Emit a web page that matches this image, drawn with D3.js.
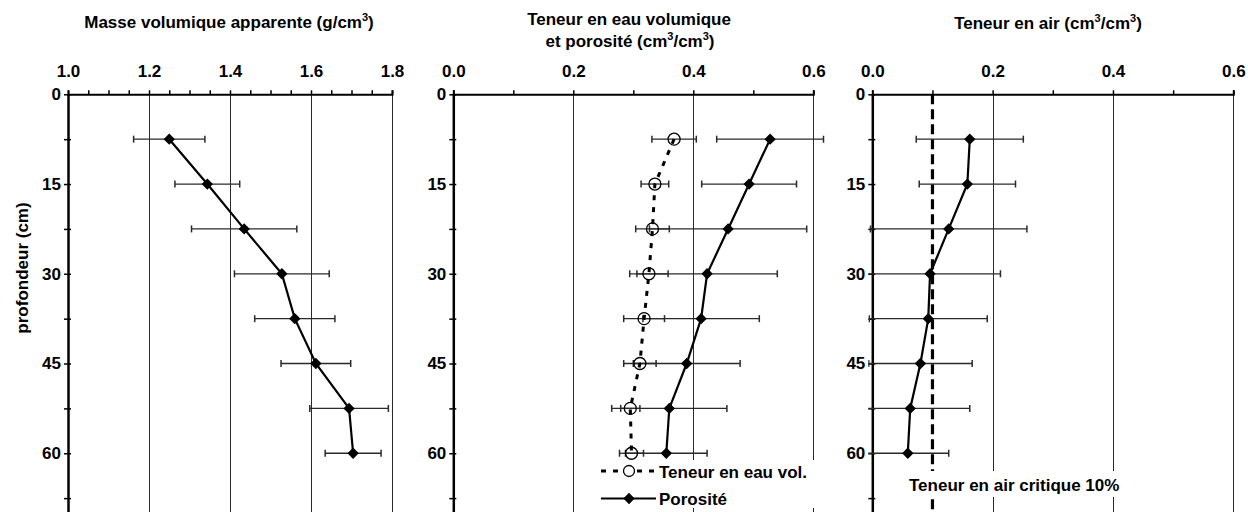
<!DOCTYPE html>
<html>
<head>
<meta charset="utf-8">
<script src="https://cdn.jsdelivr.net/npm/d3@7"></script>
<style>
  body { margin: 0; background: #fff; }
  svg { font-family: "Liberation Sans", Arial, sans-serif; font-weight: bold; }
</style>
</head>
<body>
<div id="chart"></div>
<script>
// depth of each sample (cm)
const depths = [7.5, 15, 22.5, 30, 37.5, 45, 52.5, 60]

// bulk density (g/cm3) and its std dev
const density = [1.25, 1.344, 1.435, 1.528, 1.560, 1.612, 1.694, 1.704]
const densityErr = [0.088, 0.080, 0.130, 0.117, 0.099, 0.086, 0.097, 0.069]

// volumetric water content and porosity (cm3/cm3)
const water = [0.368, 0.336, 0.332, 0.326, 0.318, 0.311, 0.295, 0.297]
const waterErr = [0.037, 0.023, 0.028, 0.032, 0.034, 0.027, 0.016, 0.020]
const porosity = [0.528, 0.493, 0.458, 0.423, 0.413, 0.389, 0.360, 0.355]
const porosityErr = [0.089, 0.079, 0.131, 0.117, 0.097, 0.089, 0.096, 0.068]

// air content (cm3/cm3)
const air = [0.162, 0.158, 0.127, 0.096, 0.093, 0.080, 0.063, 0.059]
const airErr = [0.089, 0.080, 0.130, 0.117, 0.098, 0.086, 0.099, 0.068]
const airCritical = 0.1

const densityTicks = [1.0, 1.2, 1.4, 1.6, 1.8]
const fracTicks = [0.0, 0.2, 0.4, 0.6]
const depthTicks = [0, 15, 30, 45, 60]

const WIDTH = 1248
const HEIGHT = 512
const FONT = 17
const GRID = '#2a2a2a'
const ERR = '#2a2a2a'

const svg = d3.select('#chart')
  .append('svg')
  .attr('width', WIDTH)
  .attr('height', HEIGHT)

const y = d3.scaleLinear().domain([0, 75]).range([94.3, 543])

const panels = [
  { x0: 68, x1: 392, domain: [1.0, 1.8], major: densityTicks, minorStep: 0.05 },
  { x0: 453.3, x1: 813.3, domain: [0, 0.6], major: fracTicks, minorStep: 0.1 },
  { x0: 872.3, x1: 1233.3, domain: [0, 0.6], major: fracTicks, minorStep: 0.1 },
]

const fontUp = g => g
  .attr('font-size', FONT)
  .attr('font-family', '"Liberation Sans", Arial, sans-serif')
  .attr('font-weight', 'bold')

function drawPanel(p, i) {
  const x = d3.scaleLinear().domain(p.domain).range([p.x0, p.x1])
  const g = svg.append('g').attr('class', 'panel')

  // vertical gridlines
  g.append('g')
    .selectAll('line')
    .data(p.major.slice(1))
    .enter()
    .append('line')
    .attr('x1', d => Math.round(x(d)) + 0.5).attr('x2', d => Math.round(x(d)) + 0.5)
    .attr('y1', y(0)).attr('y2', y(75))
    .attr('stroke', GRID)
    .attr('stroke-width', 1)

  const nMinor = Math.round((p.domain[1] - p.domain[0]) / p.minorStep)
  const minor = d3.range(nMinor + 1).map(k => p.domain[0] + k * p.minorStep)

  // top axis ticks + line
  g.append('g')
    .attr('transform', `translate(0,${y(0)})`)
    .call(d3.axisTop(x).tickValues(minor).tickSize(4).tickSizeOuter(4).tickFormat(''))
    .call(a => a.select('.domain').attr('stroke', '#000').attr('stroke-width', 2))
    .call(a => a.selectAll('.tick line').attr('stroke', '#000').attr('stroke-width', 1.5))

  // top axis labels
  g.append('g')
    .attr('transform', `translate(0,${y(0)})`)
    .call(d3.axisTop(x).tickValues(p.major).tickSize(0).tickPadding(17).tickFormat(d3.format('.1f')))
    .call(fontUp)
    .call(a => a.select('.domain').remove())
    .call(a => a.selectAll('text').attr('fill', '#000'))

  // left depth axis: crossing ticks every 7.5 cm
  const depthMinor = d3.range(0, 76, 7.5)
  g.append('g')
    .attr('transform', `translate(${p.x0},0)`)
    .call(d3.axisLeft(y).tickValues(depthMinor).tickSize(4).tickSizeOuter(0).tickFormat(''))
    .call(a => a.select('.domain').attr('stroke', '#000').attr('stroke-width', 2.5))
    .call(a => a.selectAll('.tick line').attr('stroke', '#000').attr('stroke-width', 1.5))
  g.append('g')
    .attr('transform', `translate(${p.x0},0)`)
    .call(d3.axisRight(y).tickValues(depthMinor).tickSize(3).tickFormat(''))
    .call(a => a.select('.domain').remove())
    .call(a => a.selectAll('.tick line').attr('stroke', '#000').attr('stroke-width', 1.5))

  g.append('g')
    .attr('transform', `translate(${p.x0},0)`)
    .call(d3.axisLeft(y).tickValues(depthTicks).tickSize(0).tickPadding(7))
    .call(fontUp)
    .call(a => a.select('.domain').remove())
    .call(a => a.selectAll('text').attr('fill', '#000'))

  // clip for the error bars (Excel cuts them a bit left of the axis)
  svg.append('clipPath')
    .attr('id', 'clip' + i)
    .append('rect')
    .attr('x', p.x0 - 4).attr('y', 0)
    .attr('width', p.x1 - p.x0 + 20).attr('height', HEIGHT)

  return { x, g }
}

function errorBars(panel, idx, vals, errs) {
  const { x, g } = panel
  const eg = g.append('g').attr('clip-path', `url(#clip${idx})`)
  const rows = depths.map((d, k) => ({ d, v: vals[k], e: errs[k] }))
  eg.selectAll('line.err')
    .data(rows)
    .enter()
    .append('line')
    .attr('class', 'err')
    .attr('x1', r => x(r.v - r.e)).attr('x2', r => x(r.v + r.e))
    .attr('y1', r => y(r.d)).attr('y2', r => y(r.d))
    .attr('stroke', ERR).attr('stroke-width', 1.3)
  ;[-1, 1].forEach(s => {
    eg.selectAll('line.cap' + (s + 1))
      .data(rows)
      .enter()
      .append('line')
      .attr('class', 'cap' + (s + 1))
      .attr('x1', r => x(r.v + s * r.e)).attr('x2', r => x(r.v + s * r.e))
      .attr('y1', r => y(r.d) - 3.5).attr('y2', r => y(r.d) + 3.5)
      .attr('stroke', ERR).attr('stroke-width', 1.5)
  })
}

function series(panel, vals, opts) {
  const { x, g } = panel
  const rows = depths.map((d, k) => ({ d, v: vals[k] }))
  const line = d3.line().x(r => x(r.v)).y(r => y(r.d))
  g.append('path')
    .datum(rows)
    .attr('d', line)
    .attr('fill', 'none')
    .attr('stroke', '#000')
    .attr('stroke-width', opts.dashed ? 3 : 2.2)
    .attr('stroke-dasharray', opts.dashed ? '5,7' : null)
  markers(g, rows.map(r => [x(r.v), y(r.d)]), opts.circle)
}

function markers(g, pts, circle) {
  if (circle) {
    g.selectAll(null)
      .data(pts)
      .enter()
      .append('circle')
      .attr('cx', d => d[0]).attr('cy', d => d[1])
      .attr('r', 6)
      .attr('fill', 'none')
      .attr('stroke', '#000')
      .attr('stroke-width', 1.3)
  } else {
    g.selectAll(null)
      .data(pts)
      .enter()
      .append('path')
      .attr('d', d3.symbol(d3.symbolSquare, 64))
      .attr('transform', d => `translate(${d[0]},${d[1]}) rotate(45)`)
      .attr('fill', '#000')
  }
}

// text with superscript parts; keeps the baseline in step
function title(cx, by, parts) {
  const t = svg.append('text')
    .attr('x', cx).attr('y', by)
    .attr('text-anchor', 'middle')
    .attr('font-size', FONT)
  let shift = 0
  parts.forEach(pt => {
    const target = pt.sup ? -7 : 0
    t.append('tspan')
      .attr('dy', target - shift)
      .attr('font-size', pt.sup ? 11 : FONT)
      .text(pt.text)
    shift = target
  })
}

const p1 = drawPanel(panels[0], 0)
const p2 = drawPanel(panels[1], 1)
const p3 = drawPanel(panels[2], 2)

// panel 1: bulk density
errorBars(p1, 0, density, densityErr)
series(p1, density, {})

// panel 2: water content and porosity
errorBars(p2, 1, water, waterErr)
errorBars(p2, 1, porosity, porosityErr)
series(p2, water, { dashed: true, circle: true })
series(p2, porosity, {})

// legend for panel 2
const leg = svg.append('g')
leg.append('rect')
  .attr('x', 598).attr('y', 460).attr('width', 232).attr('height', 48)
  .attr('fill', '#fff')
leg.append('line')
  .attr('x1', 601).attr('x2', 658).attr('y1', 471).attr('y2', 471)
  .attr('stroke', '#000').attr('stroke-width', 3).attr('stroke-dasharray', '5,7')
leg.append('circle')
  .attr('cx', 629).attr('cy', 471).attr('r', 5.5)
  .attr('fill', '#fff').attr('stroke', '#000').attr('stroke-width', 1.3)
leg.append('text').attr('x', 659).attr('y', 477.5).attr('font-size', FONT).text('Teneur en eau vol.')
leg.append('line')
  .attr('x1', 601).attr('x2', 656).attr('y1', 498.5).attr('y2', 498.5)
  .attr('stroke', '#000').attr('stroke-width', 2.2)
markers(leg, [[629, 498.5]], false)
leg.append('text').attr('x', 659).attr('y', 505).attr('font-size', FONT).text('Porosité')

// panel 3: air content with the critical 10% line
p3.g.append('line')
  .attr('x1', p3.x(airCritical)).attr('x2', p3.x(airCritical))
  .attr('y1', y(0)).attr('y2', y(75))
  .attr('stroke', '#000').attr('stroke-width', 3.2)
  .attr('stroke-dasharray', '10,5')
errorBars(p3, 2, air, airErr)
series(p3, air, {})

svg.append('rect')
  .attr('x', 905).attr('y', 471).attr('width', 222).attr('height', 26)
  .attr('fill', '#fff')
svg.append('text')
  .attr('x', 909).attr('y', 490.5)
  .attr('font-size', FONT)
  .text('Teneur en air critique 10%')

// titles
title(229, 28, [{ text: 'Masse volumique apparente (g/cm' }, { text: '3', sup: true }, { text: ')' }])
title(629, 25, [{ text: 'Teneur en eau volumique' }])
title(630, 46.5, [{ text: 'et porosité (cm' }, { text: '3', sup: true }, { text: '/cm' }, { text: '3', sup: true }, { text: ')' }])
title(1048, 29, [{ text: 'Teneur en air (cm' }, { text: '3', sup: true }, { text: '/cm' }, { text: '3', sup: true }, { text: ')' }])

svg.append('text')
  .attr('transform', 'translate(28,268) rotate(-90)')
  .attr('text-anchor', 'middle')
  .attr('font-size', FONT)
  .text('profondeur (cm)')
</script>
</body>
</html>
